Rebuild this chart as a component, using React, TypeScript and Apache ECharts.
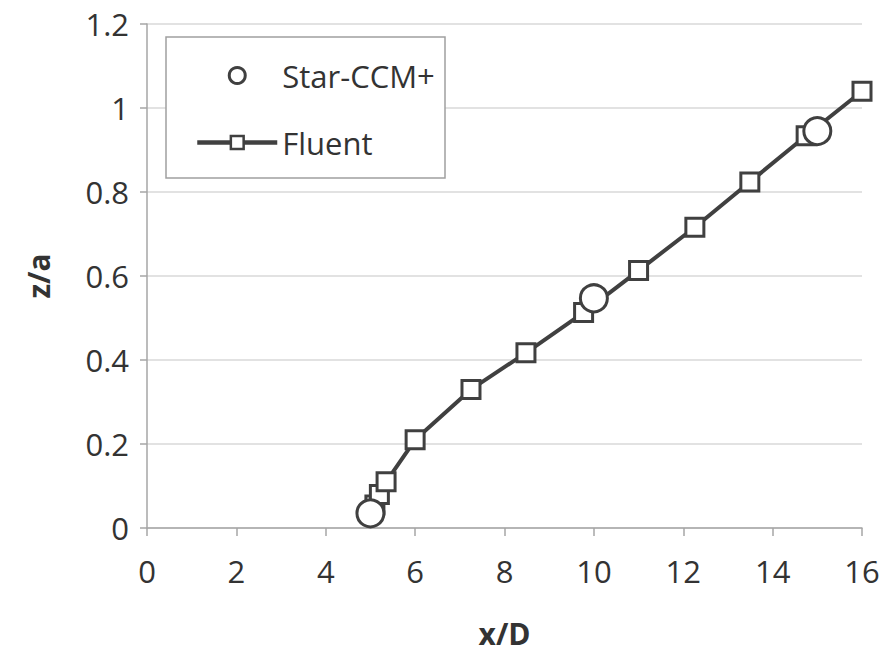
import React, { useEffect, useRef } from "react";
import * as echarts from "echarts";

const fluentX = [5.1, 5.2, 5.35, 6.0, 7.25, 8.48, 9.77, 11.0, 12.26, 13.49, 14.75, 16.0];
const fluentZ = [0.055, 0.08, 0.11, 0.21, 0.33, 0.417, 0.513, 0.613, 0.716, 0.824, 0.934, 1.04];
const starX = [5.0, 10.0, 15.0];
const starZ = [0.035, 0.547, 0.945];
const seriesNames = ["Star-CCM+", "Fluent"];
const xTitle = "x/D";
const yTitle = "z/a";

const FONT = "'Open Sans', 'Noto Sans', sans-serif";
const DARK = "#404040";
const AXIS = "#a6a6a6";

export default function App() {
  const ref = useRef<HTMLDivElement>(null);
  useEffect(() => {
    if (!ref.current) return;
    const chart = echarts.init(ref.current, undefined, { renderer: "svg" });
    chart.setOption({
      animation: false,
      backgroundColor: "#ffffff",
      textStyle: { fontFamily: FONT },
      grid: { left: 147, right: 27, top: 24, bottom: 125, containLabel: false },
      graphic: [
        {
          type: "rect",
          shape: { x: 166, y: 37, width: 279, height: 141 },
          style: { fill: "#ffffff", stroke: "#a0a0a0", lineWidth: 1.5 },
          z: 5,
        },
      ],
      legend: {
        data: [
          { name: seriesNames[0], itemStyle: { borderWidth: 3 } },
          { name: seriesNames[1], itemStyle: { borderWidth: 2.5 } },
        ],
        orient: "vertical",
        left: 190,
        top: 55,
        itemWidth: 80,
        itemHeight: 16,
        itemGap: 36,
        z: 10,
        lineStyle: { width: 4.5, color: DARK },
        textStyle: { fontFamily: FONT, fontSize: 31, color: "#333333" },
      },
      xAxis: {
        type: "value",
        min: 0,
        max: 16,
        interval: 2,
        name: xTitle,
        nameLocation: "middle",
        nameGap: 90,
        nameTextStyle: { fontFamily: FONT, fontSize: 30, fontWeight: "bold", color: "#333333" },
        axisLine: { show: true, lineStyle: { color: AXIS, width: 1.5 } },
        axisTick: { show: true, length: 8, lineStyle: { color: AXIS, width: 1.5 } },
        axisLabel: { fontFamily: FONT, fontSize: 31, color: "#333333", margin: 27 },
        splitLine: { show: false },
      },
      yAxis: {
        type: "value",
        min: 0,
        max: 1.2,
        interval: 0.2,
        name: yTitle,
        nameLocation: "middle",
        nameGap: 94,
        nameTextStyle: { fontFamily: FONT, fontSize: 30, fontWeight: "bold", color: "#333333" },
        axisLine: { show: true, lineStyle: { color: AXIS, width: 1.5 } },
        axisTick: { show: true, length: 7, lineStyle: { color: AXIS, width: 1.5 } },
        axisLabel: { fontFamily: FONT, fontSize: 31, color: "#333333", margin: 18 },
        splitLine: { show: true, lineStyle: { color: "#d9d9d9", width: 1.5 } },
      },
      series: [
        {
          name: "Fluent",
          type: "line",
          data: fluentX.map((x, i) => [x, fluentZ[i]]),
          symbol: "rect",
          symbolSize: 18,
          lineStyle: { color: DARK, width: 4 },
          itemStyle: { color: "#ffffff", borderColor: DARK, borderWidth: 3 },
          z: 2,
        },
        {
          name: "Star-CCM+",
          type: "scatter",
          data: starX.map((x, i) => [x, starZ[i]]),
          symbol: "circle",
          symbolSize: 27,
          itemStyle: { color: "#ffffff", borderColor: DARK, borderWidth: 3, opacity: 1 },
          z: 3,
        },
      ],
    });
    return () => chart.dispose();
  }, []);
  return <div ref={ref} style={{ width: 889, height: 653, position: "absolute", left: 0, top: 0 }} />;
}
